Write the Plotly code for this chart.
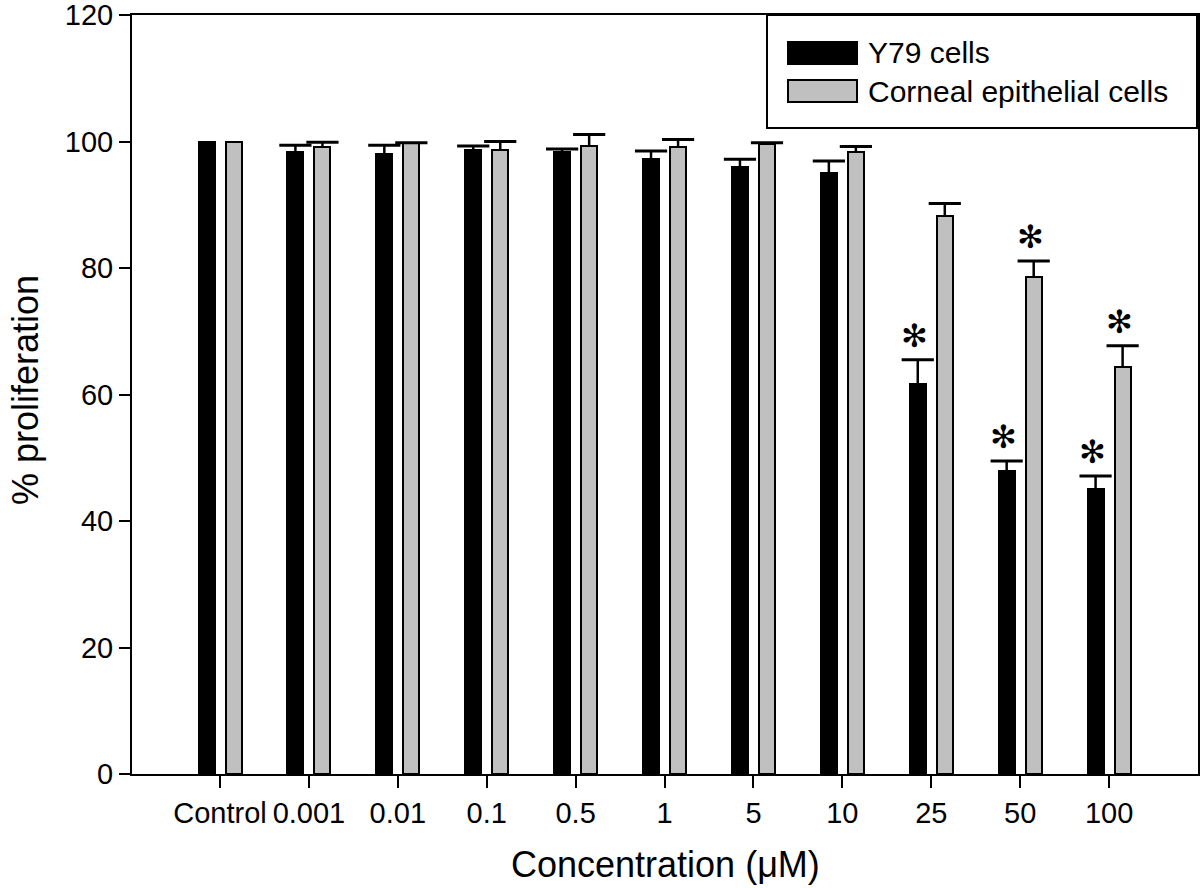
import plotly.graph_objects as go

categories = ["Control", "0.001", "0.01", "0.1", "0.5", "1", "5", "10", "25", "50", "100"]
y79 = [100, 98.3, 98.1, 98.6, 98.3, 97.3, 95.9, 95.0, 61.7, 47.9, 45.1]
y79_err = [0, 1.1, 1.3, 0.7, 0.5, 1.2, 1.3, 1.9, 3.8, 1.6, 2.0]
corneal = [100, 99.2, 99.7, 98.7, 99.3, 99.1, 99.6, 98.3, 88.3, 78.5, 64.3]
corneal_err = [0, 0.7, 0.1, 1.3, 1.8, 1.2, 0.2, 0.9, 1.9, 2.6, 3.4]
y79_sig = [False] * 8 + [True, True, True]
corneal_sig = [False] * 9 + [True, True]
yticks = [0, 20, 40, 60, 80, 100, 120]

FONT = "Liberation Sans, Arial, Helvetica, sans-serif"
OFF = 0.152
BW = 0.18
idx = list(range(len(categories)))

fig = go.Figure()
series = [
    ("Y79 cells", y79, y79_err, y79_sig, "#000000", -OFF),
    ("Corneal epithelial cells", corneal, corneal_err, corneal_sig, "#c0c0c0", OFF),
]
for name, vals, errs, sig, color, off in series:
    xs = [i + off for i in idx]
    fig.add_trace(go.Bar(
        x=xs, y=vals, width=BW, name=name,
        marker=dict(color=color, line=dict(color="black", width=2)),
        error_y=dict(type="data", symmetric=False, array=errs,
                     arrayminus=[0] * len(errs), width=0,
                     thickness=2.5, color="black"),
        showlegend=False,
    ))
    caps_y = [v + e if e > 0 else None for v, e in zip(vals, errs)]
    fig.add_trace(go.Scatter(
        x=xs, y=caps_y, mode="markers", showlegend=False, hoverinfo="skip",
        marker=dict(symbol="line-ew", size=23,
                    line=dict(color="black", width=3)),
    ))
    for x, v, e, s in zip(xs, vals, errs, sig):
        if s:
            fig.add_annotation(x=x, y=v + e, text="✻", showarrow=False,
                               xanchor="center", yanchor="bottom", xshift=-3,
                               yshift=3,
                               font=dict(family="DejaVu Sans", size=32, color="black"))

# Legend drawn as a box
W, H = 1200, 888
L, R, T, B = 132, 2, 15, 114
pw, ph = W - L - R, H - T - B


def px(x):
    return (x - L) / pw


def py(y):
    return (H - B - y) / ph


fig.add_shape(type="rect", xref="paper", yref="paper",
              x0=px(767), x1=px(1197), y0=py(128), y1=py(15),
              line=dict(color="black", width=2), fillcolor="white", layer="above")
for i, (name, _, _, _, color, _) in enumerate(series):
    yc = 53 + i * 38
    fig.add_shape(type="rect", xref="paper", yref="paper",
                  x0=px(788), x1=px(857), y0=py(yc + 11), y1=py(yc - 11),
                  line=dict(color="black", width=2), fillcolor=color, layer="above")
    fig.add_annotation(xref="paper", yref="paper", x=px(866), y=py(yc),
                       text=name, showarrow=False, xanchor="left", yanchor="middle",
                       font=dict(family=FONT, size=30, color="black"))

# Axis titles
fig.add_annotation(xref="paper", yref="paper", x=0.5, y=py(864),
                   text="Concentration (μM)", showarrow=False,
                   xanchor="center", yanchor="middle",
                   font=dict(family=FONT, size=36, color="black"))
fig.add_annotation(xref="paper", yref="paper", x=px(25), y=py(390),
                   text="% proliferation", showarrow=False, textangle=-90,
                   xanchor="center", yanchor="middle",
                   font=dict(family=FONT, size=36, color="black"))

fig.update_layout(
    width=W, height=H,
    margin=dict(l=L, r=R, t=T, b=B, pad=0),
    paper_bgcolor="white", plot_bgcolor="white",
    font=dict(family=FONT, size=29, color="black"),
    showlegend=False,
    bargap=0,
)
fig.update_xaxes(
    range=[-0.99, 11.0], tickmode="array", tickvals=idx, ticktext=categories,
    showgrid=False, zeroline=False, showline=True, linecolor="black", linewidth=2,
    mirror=True, ticks="outside", ticklen=12, tickwidth=2, tickcolor="black",
    tickfont=dict(family=FONT, size=29), automargin=False,
)
fig.update_yaxes(
    range=[0, 120], tickmode="array", tickvals=yticks,
    showgrid=False, zeroline=False, showline=True, linecolor="black", linewidth=2,
    mirror=True, ticks="outside", ticklen=11, tickwidth=2, tickcolor="black",
    tickfont=dict(family=FONT, size=29), automargin=False,
    ticklabeloverflow="allow",
)

fig.write_html("out.html", config={"displayModeBar": False},
               post_script="document.body.style.margin='0';document.body.style.padding='0';")
